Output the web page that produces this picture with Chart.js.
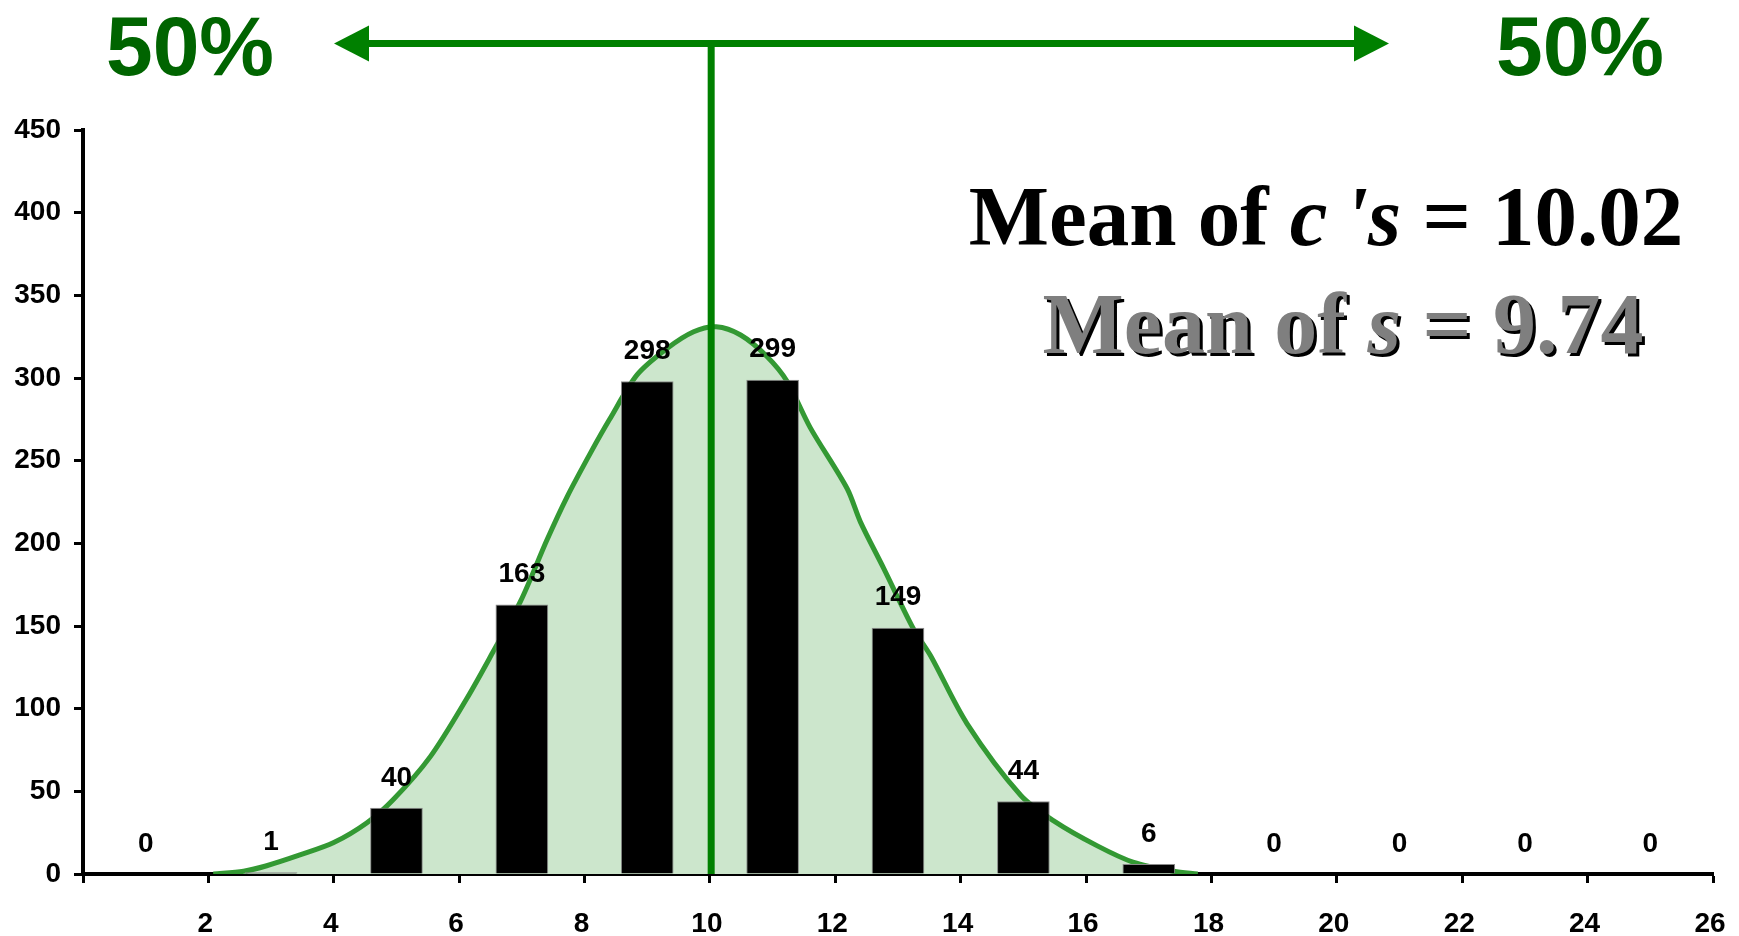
<!DOCTYPE html>
<html>
<head>
<meta charset="utf-8">
<title>Distribution of c</title>
<script src="https://cdn.jsdelivr.net/npm/chart.js@4.4.1/dist/chart.umd.min.js"></script>
<style>
  html, body { margin: 0; padding: 0; background: #ffffff; }
  #wrap { width: 1739px; height: 936px; }
</style>
</head>
<body>
<div id="wrap"><canvas id="chart" width="1739" height="936"></canvas></div>
<script>
// Bin centres and counts of the c values
const categories = [1, 3, 5, 7, 9, 11, 13, 15, 17, 19, 21, 23, 25];
const counts     = [0, 1, 40, 163, 298, 299, 149, 44, 6, 0, 0, 0, 0];

// Fitted normal curve, sampled along the x axis
const curveX = [2.08, 2.56, 2.93, 3.46, 4.00, 4.53, 4.95, 5.54, 6.12, 6.55, 6.98, 7.40, 7.72, 8.10, 8.40, 8.84, 9.32, 9.74, 10.10,
                10.49, 10.91, 11.23, 11.60, 12.19, 12.40, 12.77, 13.25, 13.52, 14.10, 14.96, 15.49, 16.18, 16.76, 17.40, 17.78];
const curveY = [0, 1.7, 5, 11.5, 19, 31, 45, 71, 106, 135, 165, 202, 228, 255, 275, 302, 318, 328, 331,
                326, 313, 298, 270, 233, 213, 185, 148, 132, 91, 47.5, 32, 17, 7, 1.7, 0];

// Axis ticks
const xTickValues = [0, 2, 4, 6, 8, 10, 12, 14, 16, 18, 20, 22, 24, 26];
const xTickLabels = [2, 4, 6, 8, 10, 12, 14, 16, 18, 20, 22, 24, 26];
const yTickValues = [0, 50, 100, 150, 200, 250, 300, 350, 400, 450];

// Summary statistics
const meanC = 10.02;
const meanS = 9.74;
const halfShares = ['50%', '50%'];

const SANS = '"Liberation Sans", Arial, Helvetica, sans-serif';
const SERIF = '"Liberation Serif", "Times New Roman", Times, serif';
const ARROW_GREEN = '#008000';
const TEXT_GREEN = '#006400';

const barData = categories.map((c, i) => ({ x: c, y: counts[i] }));
const curveData = curveX.map((x, i) => ({ x: x, y: curveY[i] }));
const baseData = [{ x: curveX[0], y: 0 }, { x: curveX[curveX.length - 1], y: 0 }];

// Count labels above each bar
const barLabels = {
  id: 'barLabels',
  afterDatasetsDraw(chart) {
    const meta = chart.getDatasetMeta(0);
    const ctx = chart.ctx;
    ctx.save();
    ctx.font = 'bold 28px ' + SANS;
    ctx.fillStyle = '#000';
    ctx.textAlign = 'center';
    ctx.textBaseline = 'middle';
    meta.data.forEach((bar, i) => {
      ctx.fillText(String(counts[i]), bar.x, bar.y - 30);
    });
    ctx.restore();
  }
};

function drawRich(ctx, parts, cx, baseline, color) {
  let total = 0;
  parts.forEach(p => { ctx.font = p.font; total += ctx.measureText(p.text).width; });
  let x = cx - total / 2;
  ctx.fillStyle = color;
  ctx.textAlign = 'left';
  ctx.textBaseline = 'alphabetic';
  parts.forEach(p => {
    ctx.font = p.font;
    ctx.fillText(p.text, x, baseline);
    x += ctx.measureText(p.text).width;
  });
}

// Mean marker, 50/50 split arrow and the summary text
const annotations = {
  id: 'annotations',
  afterDraw(chart) {
    const ctx = chart.ctx;
    const xs = chart.scales.x, ys = chart.scales.y;
    const mx = xs.getPixelForValue(meanC);
    const arrowY = 43.5;
    ctx.save();

    // vertical line at the mean
    ctx.strokeStyle = ARROW_GREEN;
    ctx.lineWidth = 7;
    ctx.beginPath();
    ctx.moveTo(mx, arrowY);
    ctx.lineTo(mx, ys.getPixelForValue(0));
    ctx.stroke();

    // double-headed arrow
    const leftTip = 334, rightTip = 1389, head = 35, half = 18;
    ctx.beginPath();
    ctx.moveTo(leftTip + head - 1, arrowY);
    ctx.lineTo(rightTip - head + 1, arrowY);
    ctx.stroke();
    ctx.fillStyle = ARROW_GREEN;
    ctx.beginPath();
    ctx.moveTo(leftTip, arrowY);
    ctx.lineTo(leftTip + head, arrowY - half);
    ctx.lineTo(leftTip + head, arrowY + half);
    ctx.closePath();
    ctx.fill();
    ctx.beginPath();
    ctx.moveTo(rightTip, arrowY);
    ctx.lineTo(rightTip - head, arrowY - half);
    ctx.lineTo(rightTip - head, arrowY + half);
    ctx.closePath();
    ctx.fill();

    // 50% labels
    ctx.font = 'bold 84px ' + SANS;
    ctx.fillStyle = TEXT_GREEN;
    ctx.textAlign = 'center';
    ctx.textBaseline = 'alphabetic';
    ctx.fillText(halfShares[0], 190, 75);
    ctx.fillText(halfShares[1], 1580, 75);

    // Mean of c's
    const fB1 = 'bold 85px ' + SERIF;
    const fBI1 = 'italic bold 85px ' + SERIF;
    drawRich(ctx, [
      { text: 'Mean of ', font: fB1 },
      { text: 'c\u2009\'s', font: fBI1 },
      { text: ' = ' + meanC.toFixed(2), font: fB1 }
    ], 1326, 245, '#000');

    // Mean of s, grey with a dark drop shadow
    const fB = 'bold 86px ' + SERIF;
    const fBI = 'italic bold 86px ' + SERIF;
    const partsS = [
      { text: 'Mean of ', font: fB },
      { text: 's', font: fBI },
      { text: ' = ' + meanS.toFixed(2), font: fB }
    ];
    drawRich(ctx, partsS, 1343 + 3, 353 + 3, '#000');
    drawRich(ctx, partsS, 1343, 353, '#7f7f7f');

    ctx.restore();
  }
};

new Chart(document.getElementById('chart'), {
  type: 'bar',
  data: {
    datasets: [
      {
        type: 'bar',
        data: barData,
        backgroundColor: '#000000',
        borderColor: '#8a8a8a',
        borderWidth: ctx => (ctx.raw && ctx.raw.y > 0 ? 1 : 0),
        categoryPercentage: 1,
        barPercentage: 0.42,
        order: 1
      },
      {
        type: 'line',
        data: curveData,
        borderColor: '#339933',
        borderWidth: 5,
        backgroundColor: '#cce6cc',
        fill: 'origin',
        pointRadius: 0,
        tension: 0.3,
        order: 2
      },
      {
        type: 'line',
        data: baseData,
        borderColor: '#339933',
        borderWidth: 3,
        pointRadius: 0,
        fill: false,
        clip: 0,
        order: 3
      }
    ]
  },
  options: {
    responsive: false,
    animation: false,
    layout: { padding: { top: 130, right: 26, left: 0, bottom: 0 } },
    plugins: { legend: { display: false }, tooltip: { enabled: false } },
    scales: {
      x: {
        type: 'linear',
        min: 0,
        max: 26,
        offset: false,
        afterBuildTicks: s => { s.ticks = xTickValues.map(v => ({ value: v })); },
        afterFit: s => { s.height = 62; s.paddingLeft = 0; s.paddingRight = 0; },
        border: { display: true, color: '#000', width: 4 },
        grid: { offset: false, drawOnChartArea: false, drawTicks: true, tickLength: 9, tickWidth: 3, tickColor: '#000' },
        ticks: {
          autoSkip: false,
          maxRotation: 0,
          padding: 24,
          labelOffset: -3,
          color: '#000',
          font: { family: SANS, size: 28, weight: 'bold' },
          callback: v => (xTickLabels.includes(v) ? String(v) : '')
        }
      },
      y: {
        min: 0,
        max: 450,
        afterBuildTicks: s => { s.ticks = yTickValues.map(v => ({ value: v })); },
        afterFit: s => { s.width = 83; },
        border: { display: true, color: '#000', width: 4 },
        grid: { drawOnChartArea: false, drawTicks: true, tickLength: 9, tickWidth: 3, tickColor: '#000' },
        ticks: {
          padding: 13,
          color: '#000',
          font: { family: SANS, size: 28, weight: 'bold' }
        }
      }
    }
  },
  plugins: [barLabels, annotations]
});
</script>
</body>
</html>
